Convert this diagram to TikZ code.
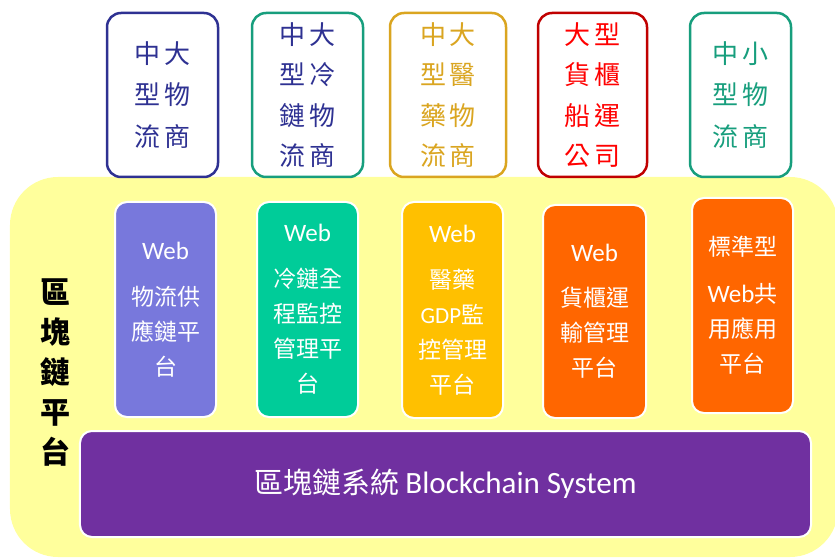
\documentclass[tikz,border=0pt]{standalone}
\usepackage{fontspec}
\setmainfont{Carlito}
\newfontfamily\cjk{Noto Sans CJK TC}
\newfontfamily\lat{Carlito}
\newcommand\cg{\hspace{4bp}}
\definecolor{ybg}{HTML}{FFFF9C}
\definecolor{navy}{HTML}{2E3192}
\definecolor{teal}{HTML}{179E7D}
\definecolor{gold}{HTML}{DAA520}
\definecolor{dred}{HTML}{C00000}
\definecolor{bred}{HTML}{FF0000}
\definecolor{mblue}{HTML}{7878DC}
\definecolor{mgreen}{HTML}{00CC99}
\definecolor{morange}{HTML}{FFC000}
\definecolor{mred}{HTML}{FF6600}
\definecolor{bpurple}{HTML}{7030A0}
\tikzset{
  topbox/.style={draw, fill=white, line width=2.5bp, rounded corners=14bp, minimum height=164bp, align=center, inner sep=0pt},
  top3/.style={font=\cjk\fontsize{26bp}{41.5bp}\selectfont},
  top4/.style={font=\cjk\fontsize{26bp}{40.5bp}\selectfont},
  midbox/.style={draw=white, line width=2bp, rounded corners=12bp, minimum width=101bp, text=white, align=center, inner sep=0pt, font=\cjk\fontsize{23bp}{35bp}\selectfont},
}
\newcommand\web{{\lat\fontsize{25bp}{25bp}\selectfont Web}}
\begin{document}
\begin{tikzpicture}[x=1bp,y=-1bp]
\useasboundingbox (0,0) rectangle (835,558);
\begin{scope}
\clip (0,0) rectangle (835,558);
\node[fill=ybg, rounded corners=48bp, minimum width=828bp, minimum height=380bp, inner sep=0pt] (bg) at (424,367) {};
\end{scope}
% top boxes
\node[topbox, top3, draw=navy, text=navy, minimum width=111bp] (t1) at (162.5,95) {中\cg 大\\型\cg 物\\流\cg 商};
\node[topbox, top4, draw=teal, text=navy, minimum width=111bp] (t2) at (307.5,95) {中\cg 大\\型\cg 冷\\鏈\cg 物\\流\cg 商};
\node[topbox, top4, draw=gold, text=gold, minimum width=116bp] (t3) at (448,95) {中\cg 大\\型\cg 醫\\藥\cg 物\\流\cg 商};
\node[topbox, top4, draw=dred, text=bred, minimum width=109bp] (t4) at (592.5,95) {大\cg 型\\貨\cg 櫃\\船\cg 運\\公\cg 司};
\node[topbox, top3, draw=teal, text=teal, minimum width=101bp] (t5) at (740.5,95) {中\cg 小\\型\cg 物\\流\cg 商};
% left label
\node[font=\cjk\bfseries\fontsize{30bp}{40bp}\selectfont, align=center, inner sep=0pt] (lbl) at (55,373) {區\\塊\\鏈\\平\\台};
% middle boxes
\node[midbox, fill=mblue, minimum height=215bp] (m1) at (165.5,309.5) {\web\\[11bp]物流供\\應鏈平\\台};
\node[midbox, fill=mgreen, minimum height=215bp] (m2) at (307.5,309.5) {\web\\[11bp]冷鏈全\\程監控\\管理平\\台};
\node[midbox, fill=morange, minimum height=216bp] (m3) at (452.5,310) {\web\\[11bp]醫藥\\{\lat GDP}監\\控管理\\平台};
\node[midbox, fill=mred, minimum width=103bp, minimum height=213bp] (m4) at (594.5,311.5) {\web\\[10bp]貨櫃運\\輸管理\\平台};
\node[midbox, fill=mred, minimum height=215bp] (m5) at (742.5,305.5) {標準型\\[12bp]\web 共\\用應用\\平台};
% bottom
\node[draw=white, line width=2bp, fill=bpurple, rounded corners=12bp, minimum width=731bp, minimum height=106bp, text=white, inner sep=0pt] (sys) at (445.5,484) {{\cjk\fontsize{29bp}{29bp}\selectfont 區塊鏈系統}\hspace{6bp}{\lat\fontsize{31bp}{31bp}\selectfont Blockchain System}};
\end{tikzpicture}
\end{document}
